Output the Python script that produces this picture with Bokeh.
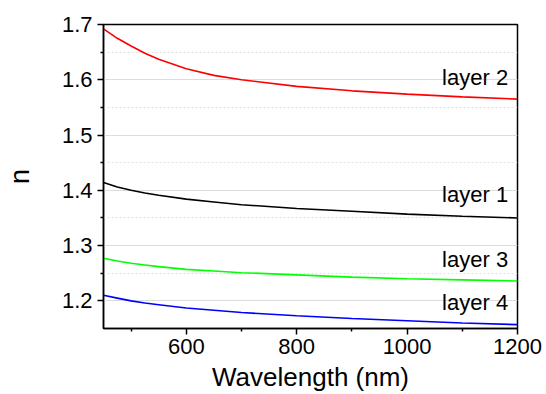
from bokeh.plotting import figure
from bokeh.models import FixedTicker, NumeralTickFormatter, Range1d, ColumnDataSource
from bokeh.core.properties import value
from bokeh.embed import file_html
from bokeh.resources import INLINE

# ---- data ----
wavelength = [450, 475, 500, 525, 550, 600, 650, 700, 800, 900, 1000, 1100, 1200]
layer1 = [1.414, 1.406, 1.400, 1.395, 1.391, 1.384, 1.379, 1.374, 1.367, 1.362, 1.357, 1.353, 1.350]
layer2 = [1.692, 1.675, 1.661, 1.648, 1.637, 1.620, 1.608, 1.600, 1.588, 1.580, 1.574, 1.569, 1.565]
layer3 = [1.277, 1.272, 1.268, 1.265, 1.262, 1.257, 1.254, 1.251, 1.247, 1.243, 1.240, 1.238, 1.236]
layer4 = [1.210, 1.205, 1.200, 1.196, 1.193, 1.187, 1.183, 1.179, 1.173, 1.168, 1.164, 1.160, 1.157]

series_names = ["layer 2", "layer 1", "layer 3", "layer 4"]
series_values = [layer2, layer1, layer3, layer4]
series_colors = ["#ff0000", "#000000", "#00ff00", "#0000ff"]
label_x = 1183
label_y = [1.604, 1.392, 1.275, 1.197]

x_ticks = [600, 800, 1000, 1200]
x_minor_ticks = [500, 700, 900, 1100]
y_ticks = [1.2, 1.3, 1.4, 1.5, 1.6, 1.7]
y_minor_ticks = [1.25, 1.35, 1.45, 1.55, 1.65]

x_title = "Wavelength (nm)"
y_title = "n"

FONT = "Liberation Sans"

p = figure(width=546, height=394,
           x_range=Range1d(450, 1200), y_range=Range1d(1.15, 1.7),
           output_backend="svg", toolbar_location=None,
           min_border_left=103, min_border_right=29,
           min_border_top=24, min_border_bottom=66)

p.background_fill_color = "white"
p.border_fill_color = "white"
p.outline_line_color = "black"
p.outline_line_width = 1.5
p.outline_line_alpha = 1.0

p.xaxis.ticker = FixedTicker(ticks=x_ticks, minor_ticks=x_minor_ticks)
p.yaxis.ticker = FixedTicker(ticks=y_ticks, minor_ticks=y_minor_ticks)
p.yaxis.formatter = NumeralTickFormatter(format="0.0")

for ax in (p.xaxis[0], p.yaxis[0]):
    ax.axis_line_color = "black"
    ax.axis_line_width = 1.5
    ax.major_tick_line_color = "black"
    ax.minor_tick_line_color = "black"
    ax.major_tick_line_width = 1.5
    ax.minor_tick_line_width = 1.5
    ax.major_tick_in = 0
    ax.minor_tick_in = 0
    ax.major_tick_out = 6
    ax.minor_tick_out = 3
    ax.major_label_text_font = FONT
    ax.major_label_text_font_size = "22px"
    ax.major_label_text_color = "black"
    ax.axis_label_text_font = FONT
    ax.axis_label_text_font_style = "normal"
    ax.axis_label_text_color = "black"

p.xaxis.major_label_standoff = 4
p.yaxis.major_label_standoff = 5

p.xaxis.axis_label = x_title
p.xaxis.axis_label_text_font_size = "26px"
p.xaxis.axis_label_standoff = 5
p.xaxis.axis_label_text_line_height = 0.8

p.yaxis.axis_label = y_title
p.yaxis.axis_label_text_font_size = "27px"
p.yaxis.axis_label_standoff = 24

p.xgrid.visible = False
p.ygrid.grid_line_color = "#dcdcdc"
p.ygrid.grid_line_width = 1
p.ygrid.minor_grid_line_color = "#e2e2e2"
p.ygrid.minor_grid_line_dash = "2 2"
p.ygrid.minor_grid_line_width = 1

for name, vals, col in zip(series_names, series_values, series_colors):
    src = ColumnDataSource(dict(x=wavelength, y=vals))
    p.line("x", "y", source=src, line_color=col, line_width=1.6)

lab_src = ColumnDataSource(dict(x=[label_x] * len(series_names), y=label_y, t=series_names))
p.text("x", "y", text="t", source=lab_src, text_align="right", text_baseline="alphabetic",
       text_font=value(FONT), text_font_size="22px", text_color="black")

open("out.html", "w").write(file_html(p, INLINE))
